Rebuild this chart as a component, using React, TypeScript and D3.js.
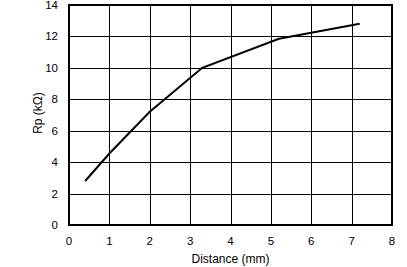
import React from "react";
import * as d3 from "d3";

const distance = [0.4, 1.0, 2.0, 3.3, 5.2, 7.2];
const rp = [2.8, 4.55, 7.2, 10.0, 11.85, 12.8];
const xTicks = [0, 1, 2, 3, 4, 5, 6, 7, 8];
const yTicks = [0, 2, 4, 6, 8, 10, 12, 14];
const xLabel = "Distance (mm)";
const yLabel = "Rp (kΩ)";

const W = 407;
const H = 267;
const m = { left: 69, right: 392, top: 5, bottom: 225 };

export default function App() {
  const x = d3.scaleLinear().domain([0, 8]).range([m.left, m.right]);
  const y = d3.scaleLinear().domain([0, 14]).range([m.bottom, m.top]);
  const pts: [number, number][] = distance.map((d, i) => [d, rp[i]]);
  const line = d3
    .line<[number, number]>()
    .x((d) => x(d[0]))
    .y((d) => y(d[1]));
  const font = "'Liberation Sans', Arial, Helvetica, sans-serif";
  return (
    <svg
      width={W}
      height={H}
      style={{ position: "absolute", left: 0, top: 0, background: "#fff" }}
      fontFamily={font}
      fontSize={11.5}
    >
      <rect x={0} y={0} width={W} height={H} fill="#fff" />
      {xTicks.slice(1, -1).map((t) => (
        <line
          key={"gx" + t}
          x1={Math.round(x(t)) + 0.5}
          x2={Math.round(x(t)) + 0.5}
          y1={m.top}
          y2={m.bottom}
          stroke="#000"
          strokeWidth={1}
        />
      ))}
      {yTicks.slice(1, -1).map((t) => (
        <line
          key={"gy" + t}
          x1={m.left}
          x2={m.right}
          y1={Math.round(y(t)) + 0.5}
          y2={Math.round(y(t)) + 0.5}
          stroke="#000"
          strokeWidth={1}
        />
      ))}
      <rect
        x={m.left}
        y={m.top}
        width={m.right - m.left}
        height={m.bottom - m.top}
        fill="none"
        stroke="#000"
        strokeWidth={2}
      />
      <path d={line(pts) || ""} fill="none" stroke="#000" strokeWidth={2} />
      {xTicks.map((t) => (
        <text key={"tx" + t} x={x(t)} y={245} textAnchor="middle" fill="#000">
          {t}
        </text>
      ))}
      {yTicks.map((t) => (
        <text key={"ty" + t} x={58} y={y(t) + 4} textAnchor="end" fill="#000">
          {t}
        </text>
      ))}
      <text
        x={(m.left + m.right) / 2}
        y={263}
        textAnchor="middle"
        fill="#000"
        fontSize={12}
      >
        {xLabel}
      </text>
      <text
        transform={`translate(42,113) rotate(-90)`}
        textAnchor="middle"
        fill="#000"
        fontSize={12}
      >
        {yLabel}
      </text>
    </svg>
  );
}
